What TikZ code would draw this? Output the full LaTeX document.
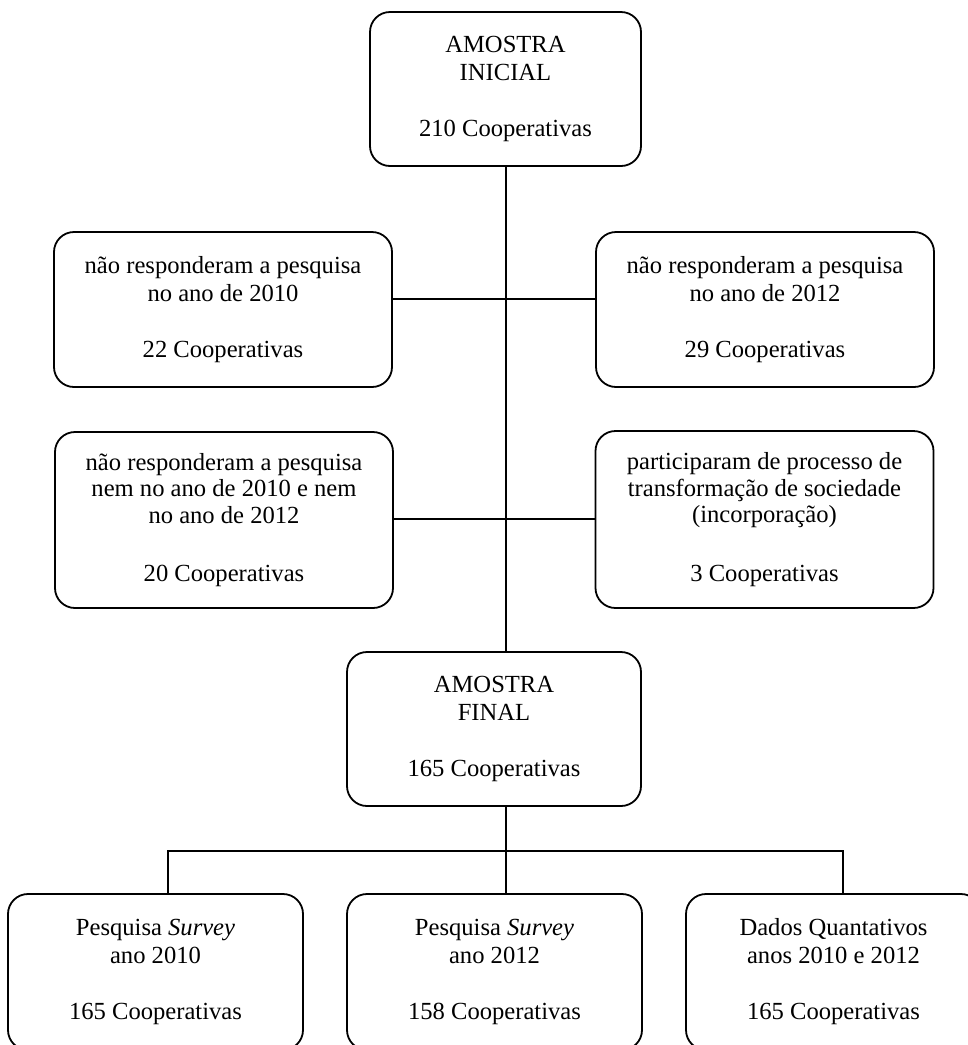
\documentclass[tikz,border=0pt]{standalone}
\usepackage{fontspec}
\setmainfont{Liberation Serif}
\begin{document}
\begin{tikzpicture}[x=0.5pt, y=-0.5pt,
  box/.style={draw, line width=0.9pt, rounded corners=10pt, align=center,
    inner sep=0pt, font=\fontsize{12.3}{14}\selectfont},
  boxtight/.style={box, font=\fontsize{12.3}{13.3}\selectfont},
  link/.style={line width=0.9pt}]
\useasboundingbox (0,0) rectangle (968,1045);
\begin{scope}
\clip (0,0) rectangle (968,1045);

% boxes
\node[box, minimum width=135.5pt, minimum height=77pt] (ini) at (505.5,89)
  {AMOSTRA\\INICIAL\\[14pt]210 Cooperativas};
\node[box, minimum width=169pt, minimum height=77.5pt] (r1l) at (223,309.5)
  {não responderam a pesquisa\\no ano de 2010\\[14pt]22 Cooperativas};
\node[box, minimum width=169pt, minimum height=77.5pt] (r1r) at (765,309.5)
  {não responderam a pesquisa\\no ano de 2012\\[14pt]29 Cooperativas};
\node[boxtight, minimum width=169pt, minimum height=88pt] (r2l) at (224,520)
  {não responderam a pesquisa\\nem no ano de 2010 e nem\\no ano de 2012\\[16pt]20 Cooperativas};
\node[boxtight, minimum width=169pt, minimum height=88.5pt] (r2r) at (764.5,519.5)
  {participaram de processo de\\transformação de sociedade\\(incorporação)\\[16pt]3 Cooperativas};
\node[box, minimum width=147pt, minimum height=77pt] (fin) at (494,729)
  {AMOSTRA\\FINAL\\[14pt]165 Cooperativas};
\node[box, minimum width=147.5pt, minimum height=78pt] (b1) at (155.5,972)
  {Pesquisa \textit{Survey}\\ano 2010\\[14pt]165 Cooperativas};
\node[box, minimum width=147.5pt, minimum height=78pt] (b2) at (494.5,972)
  {Pesquisa \textit{Survey}\\ano 2012\\[14pt]158 Cooperativas};
\node[box, minimum width=147.5pt, minimum height=78pt] (b3) at (833.5,972)
  {Dados Quantativos\\anos 2010 e 2012\\[14pt]165 Cooperativas};

% junction points of the connectors
\coordinate (sx) at (506,0);
\coordinate (j1) at (506,299);
\coordinate (j2) at (506,519);
\coordinate (hub) at (506,851);
\coordinate (l1) at (168,0);
\coordinate (l3) at (843,0);

% connectors
\draw[link] (ini.south -| sx) -- (fin.north -| sx);
\draw[link] (r1l.east |- j1) -- (r1r.west |- j1);
\draw[link] (r2l.east |- j2) -- (r2r.west |- j2);
\draw[link] (fin.south -| sx) -- (hub);
\draw[link] (b1.north -| l1) |- (hub) -| (b3.north -| l3);
\draw[link] (hub) -- (b2.north -| sx);
\end{scope}
\end{tikzpicture}
\end{document}
